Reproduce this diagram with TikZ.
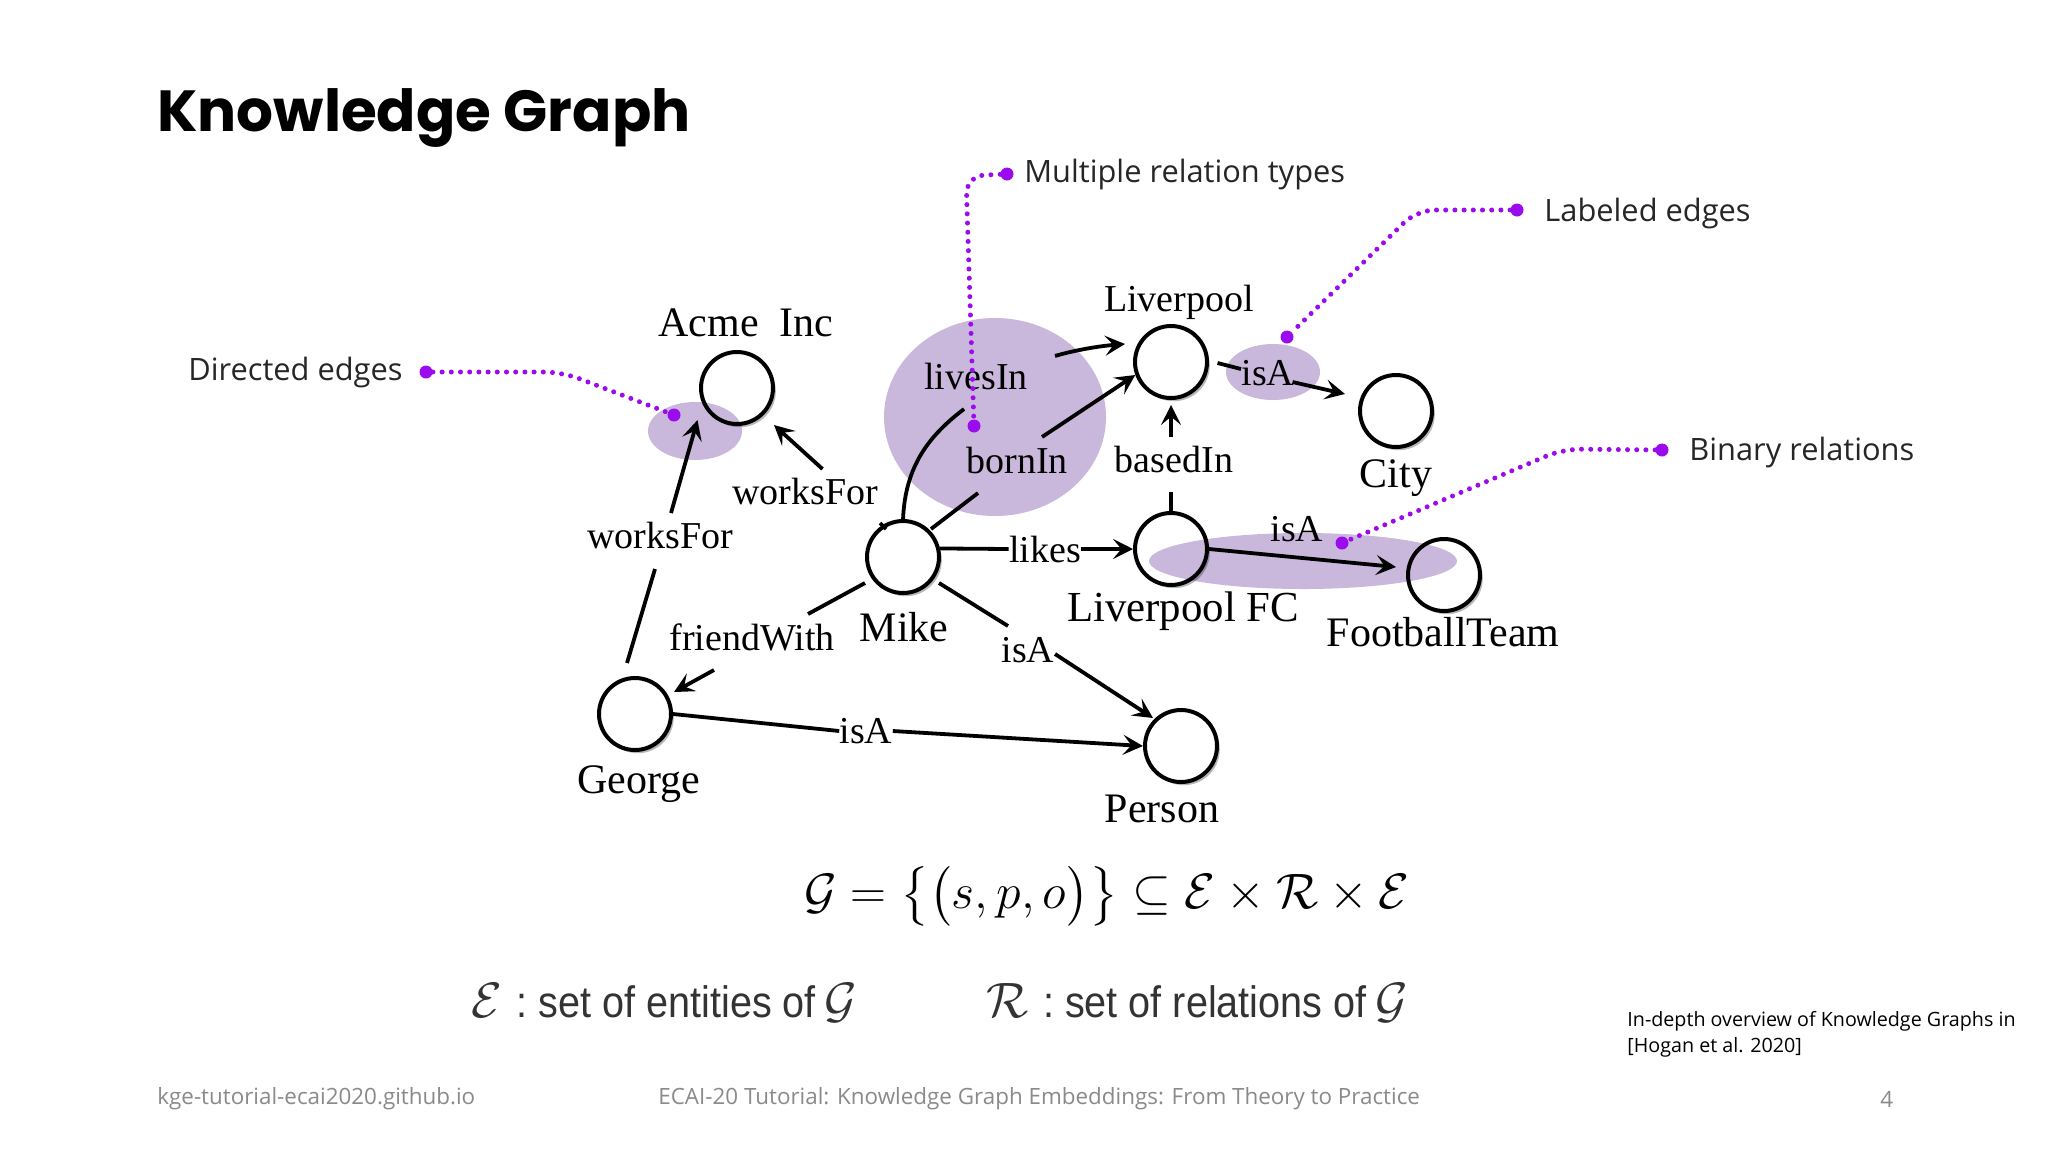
\documentclass[tikz,border=0pt]{standalone}
\usepackage{fontspec}
\usepackage{amsmath}
\usetikzlibrary{arrows.meta,shapes.geometric,shadows}
\setmainfont{Liberation Serif}
\newfontfamily\tms{Liberation Serif}
\newfontfamily\uif{Open Sans}
\newfontfamily\ttl{Poppins}
\newfontfamily\hlv{Liberation Sans}
\definecolor{lead}{HTML}{9A0CEE}
\definecolor{ovc}{RGB}{202,184,220}
\definecolor{foot}{HTML}{8A8A8A}
\tikzset{
  x=0.5pt,y=-0.5pt,
  ent/.style={circle,draw=black,line width=2pt,fill=white,minimum size=36pt,inner sep=0pt,
    drop shadow={shadow xshift=1.4pt,shadow yshift=-1.6pt,opacity=.28,fill=black}},
  nlab/.style={inner sep=0pt,font=\tms\fontsize{21}{24}\selectfont,text=black},
  elab/.style={inner sep=0pt,font=\tms\fontsize{19}{22}\selectfont,text=black},
  edge/.style={line width=1.9pt,draw=black},
  arr/.style={edge,-{Stealth[length=10pt,width=10pt,inset=4.2pt]}},
  ov/.style={ellipse,fill=ovc,blend mode=multiply,inner sep=0pt},
  leader/.style={draw=lead,line width=2.5pt,line cap=round,dash pattern=on 0pt off 4.6pt,rounded corners=9pt},
  ldot/.style={circle,fill=lead,minimum size=6.5pt,inner sep=0pt},
  call/.style={inner sep=0pt,anchor=west,font=\uif\fontsize{15.4}{18}\selectfont,text=black!85},
  foottxt/.style={inner sep=0pt,anchor=west,font=\uif\fontsize{11.2}{13}\selectfont,text=foot},
  mathset/.style={inner sep=0pt,anchor=west,font=\hlv\fontsize{26}{30}\selectfont,text=black!80},
}
\newcommand{\settext}[1]{\scalebox{.9}[1]{\fontsize{22}{26}\selectfont #1}}
\begin{document}
\begin{tikzpicture}
\fill[white] (0,0) rectangle (2048,1152);
\useasboundingbox (0,0) rectangle (2048,1152);

\node[inner sep=0pt,anchor=west,font=\ttl\bfseries\fontsize{29}{33}\selectfont] (title) at (157,118) {Knowledge Graph};

% entities
\node[ent] (acme) at (737,388) {};
\node[ent] (mike) at (903,557) {};
\node[ent] (lpool) at (1171,362) {};
\node[ent] (city) at (1396,411) {};
\node[ent] (lfc) at (1171,549) {};
\node[ent] (team) at (1444,575) {};
\node[ent] (george) at (635,714) {};
\node[ent] (person) at (1181,746) {};

% entity labels
\node[nlab] (tacme) at (746,323) {Acme\ \ Inc};
\node[nlab] (tmike) at (904,627) {Mike};
\node[elab] (tlpool) at (1179,302) {Liverpool};
\node[nlab] (tcity) at (1396,478) {City};
\node[nlab,font=\tms\fontsize{21.4}{24}\selectfont] (tlfc) at (1183,611) {Liverpool FC};
\node[nlab] (tteam) at (1443,632) {FootballTeam};
\node[nlab] (tgeorge) at (639,784) {George};
\node[nlab] (tperson) at (1162,809) {Person};

% edge labels
\node[elab] (wf1) at (805,491) {worksFor};
\node[elab] (wf2) at (660,535) {worksFor};
\node[elab] (lives) at (976,376) {livesIn};
\node[elab] (born) at (1017,460) {bornIn};
\node[elab] (likes) at (1045,549) {likes};
\node[elab] (friend) at (752,637) {friendWith};
\node[elab] (isam) at (1028,650) {isA};
\node[elab] (isag) at (866,731) {isA};
\node[elab] (based) at (1174,459) {basedIn};
\node[elab] (isal) at (1268,373) {isA};
\node[elab] (isaf) at (1297,529) {isA};

% free ends of the broken connectors
\coordinate (a1) at (627,663); \coordinate (a2) at (655,569);
\coordinate (a3) at (671,513); \coordinate (a4) at (697.5,420);
\coordinate (b1) at (822.5,469); \coordinate (b2) at (774,425);
\coordinate (b3) at (880,523); \coordinate (b4) at (886,529);
\coordinate (c1) at (903,520); \coordinate (c2) at (964,409);
\coordinate (c3) at (1055,356); \coordinate (c4) at (1125,344);
\coordinate (d1) at (931,529); \coordinate (d2) at (978,493);
\coordinate (d3) at (1042,437);
\coordinate (e1) at (865,583); \coordinate (e2) at (808,614);
\coordinate (e3) at (714,670); \coordinate (e4) at (674,692);
\coordinate (f1) at (939,583); \coordinate (f2) at (1008,626);
\coordinate (f3) at (1055,654); \coordinate (f4) at (1153,718);
\coordinate (g1) at (1217.5,363); \coordinate (g2) at (1241,369);
\coordinate (g3) at (1292.5,382); \coordinate (g4) at (1345,394);
\coordinate (h1) at (1171,492); \coordinate (h2) at (1171,437); \coordinate (h3) at (1171,405);
\coordinate (i1) at (1396,567);

% connectors
\draw[edge] (a1) -- (a2);
\draw[arr] (a3) -- (a4);
\draw[arr] (b1) -- (b2);
\draw[edge] (b3) -- (b4);
\draw[edge] (c1) .. controls (905,465) and (930,435) .. (c2);
\draw[arr] (c3) .. controls (1075,350) and (1100,346) .. (c4);
\draw[edge] (d1) -- (d2);
\draw[arr] (d3) -- (lpool.200);
\draw[edge] (mike.13) -- (likes.west);
\draw[arr] (likes.east) -- (lfc.west);
\draw[edge] (e1) -- (e2);
\draw[arr] (e3) -- (e4);
\draw[edge] (f1) -- (f2);
\draw[arr] (f3) -- (f4);
\draw[edge] (george.east) -- (isag.west);
\draw[arr] (isag.east) -- (person.west);
\draw[edge] (g1) -- (g2);
\draw[arr] (g3) -- (g4);
\draw[edge] (lfc.north) -- (h1);
\draw[arr] (h2) -- (h3);
\draw[arr] (lfc.east) -- (i1);

% highlight ellipses
\node[ov,minimum width=47pt,minimum height=29pt] (ova) at (695,431) {};
\node[ov,minimum width=111pt,minimum height=99pt] (ovb) at (995,417) {};
\node[ov,minimum width=47pt,minimum height=28pt] (ovc1) at (1273,372) {};
\node[ov,minimum width=154pt,minimum height=28pt] (ovd) at (1303,561) {};

% callouts
\node[ldot] (dd1) at (426,372) {};
\node[ldot] (dd2) at (674,415) {};
\node[ldot] (md1) at (1007,174) {};
\node[ldot] (md2) at (974,426) {};
\node[ldot] (ld1) at (1517,210) {};
\node[ldot] (ld2) at (1287,337) {};
\node[ldot] (bd1) at (1662,450) {};
\node[ldot] (bd2) at (1342,543) {};
\coordinate (dbend) at (562,372);
\coordinate (mbend) at (966,176);
\coordinate (lbend) at (1417,210);
\coordinate (bbend) at (1563,449);
\draw[leader] (dd1) -- (dbend) -- (dd2);
\draw[leader] (md1) -- (mbend) -- (md2);
\draw[leader] (ld1) -- (lbend) -- (ld2);
\draw[leader] (bd1) -- (bbend) -- (bd2);
\node[call] (cd) at (188,372) {Directed edges};
\node[call] (cm) at (1024,174) {Multiple relation types};
\node[call] (cl) at (1544,213) {Labeled edges};
\node[call] (cb) at (1689,452) {Binary relations};

% formulas
\node[inner sep=0pt,font=\fontsize{26}{30}\selectfont] (fm) at (1107,896)
  {$\mathcal{G}=\bigl\{\bigl(s,p,o\bigr)\bigr\}\subseteq\mathcal{E}\times\mathcal{R}\times\mathcal{E}$};
\node[mathset] (fe) at (471,1003)
  {$\mathcal{E}$\ \settext{:\ set of entities of}\,$\mathcal{G}$};
\node[mathset] (fr) at (986,1003)
  {$\mathcal{R}$\ \settext{:\ set of relations of}\,$\mathcal{G}$};

% footer
\node[foottxt] (f1n) at (157,1099) {kge-tutorial-ecai2020.github.io};
\node[foottxt] (f2n) at (658,1099) {ECAI-20 Tutorial: Knowledge Graph Embeddings: From Theory to Practice};
\node[foottxt] (f3n) at (1880,1099) {4};
\node[inner sep=0pt,anchor=north west,align=left,font=\uif\fontsize{9.85}{13}\selectfont,text=black] (ref) at (1627,1011)
  {In-depth overview of Knowledge Graphs in\\ [0pt][Hogan et al. 2020]};
\end{tikzpicture}
\end{document}
